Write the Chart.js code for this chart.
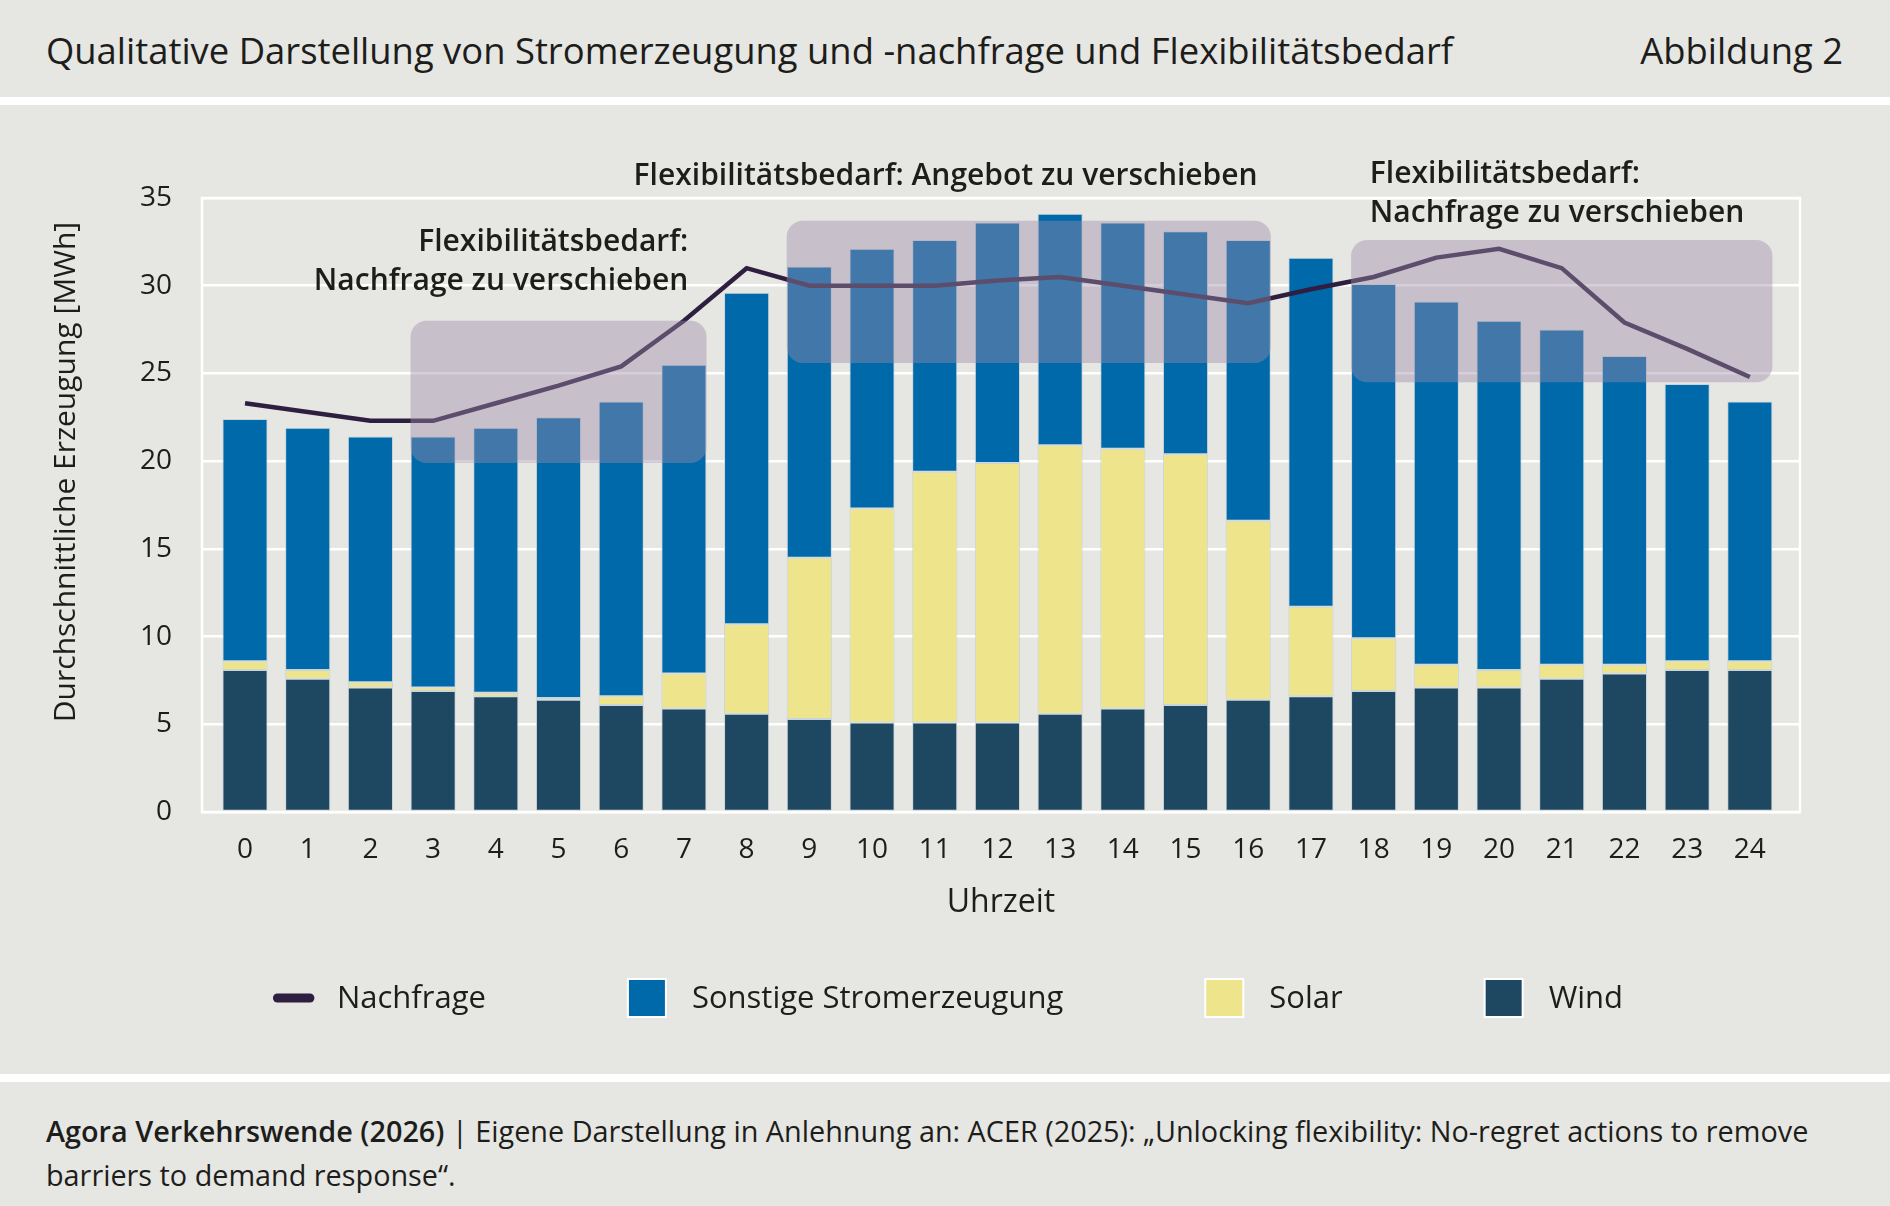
<!DOCTYPE html>
<html lang="de">
<head>
<meta charset="utf-8">
<script src="https://cdn.jsdelivr.net/npm/chart.js@4.4.1/dist/chart.umd.min.js"></script>
<style>
    html, body { margin: 0; padding: 0; }
    body {
        width: 1890px; height: 1206px; position: relative; overflow: hidden;
        background: #e6e6e2; color: #1d1d1b;
        font-family: "Open Sans", Roboto, sans-serif;
    }
    .title { position: absolute; left: 46px; top: 28px; font-size: 36.4px; line-height: 44px; }
    .fig { position: absolute; right: 47px; top: 28px; font-size: 36.4px; line-height: 44px; }
    .rule { position: absolute; left: 0; width: 1890px; height: 8px; background: #fff; }
    #wrap { position: absolute; left: 0; top: 105px; width: 1890px; height: 969px; }
    .footer { position: absolute; left: 46px; top: 1109px; font-size: 28.8px; line-height: 44px; white-space: nowrap; }
    .footer b { font-weight: 600; }
</style>
</head>
<body>
<div class="title">Qualitative Darstellung von Stromerzeugung und -nachfrage und Flexibilitätsbedarf</div>
<div class="fig">Abbildung 2</div>
<div class="rule" style="top:97px"></div>
<div id="wrap"><canvas id="chart" width="1890" height="969"></canvas></div>
<div class="rule" style="top:1074px"></div>
<div class="footer"><b>Agora Verkehrswende (2026)</b> | Eigene Darstellung in Anlehnung an: ACER (2025): „Unlocking flexibility: No-regret actions to remove<br>barriers to demand response“.</div>

<script>
// Stunden und Werte (MWh)
const hours = [0, 1, 2, 3, 4, 5, 6, 7, 8, 9, 10, 11, 12, 13, 14, 15, 16, 17, 18, 19, 20, 21, 22, 23, 24];
const wind = [8.1, 7.6, 7.1, 6.9, 6.6, 6.4, 6.1, 5.9, 5.6, 5.3, 5.1, 5.1, 5.1, 5.6, 5.9, 6.1, 6.4, 6.6, 6.9, 7.1, 7.1, 7.6, 7.9, 8.1, 8.1];
const solar = [0.5, 0.5, 0.3, 0.2, 0.2, 0.1, 0.5, 2.0, 5.1, 9.2, 12.2, 14.3, 14.8, 15.3, 14.8, 14.3, 10.2, 5.1, 3.0, 1.3, 1.0, 0.8, 0.5, 0.5, 0.5];
const sonstige = [13.8, 13.8, 14.0, 14.3, 15.1, 16.0, 16.8, 17.6, 18.9, 16.6, 14.8, 13.2, 13.7, 13.2, 12.9, 12.7, 16.0, 19.9, 20.2, 20.7, 19.9, 19.1, 17.6, 15.8, 14.8];
const nachfrage = [23.3, 22.8, 22.3, 22.3, 23.3, 24.3, 25.4, 28.0, 31.0, 30.0, 30.0, 30.0, 30.3, 30.5, 30.0, 29.5, 29.0, 29.8, 30.5, 31.6, 32.1, 31.0, 27.9, 26.4, 24.8];
const yTicks = [0, 5, 10, 15, 20, 25, 30, 35];

// Flexibilitätsbereiche (von Stunde, bis Stunde, MWh unten, MWh oben)
const flexFrom = [3, 9, 18];
const flexTo = [7, 16, 24];
const flexLow = [19.9, 25.6, 24.5];
const flexHigh = [28.0, 33.7, 32.6];
const flexLabels = [
    ["Flexibilitätsbedarf:", "Nachfrage zu verschieben"],
    ["Flexibilitätsbedarf: Angebot zu verschieben"],
    ["Flexibilitätsbedarf:", "Nachfrage zu verschieben"],
];

const legendOrder = ["Nachfrage", "Sonstige Stromerzeugung", "Solar", "Wind"];
const textColor = "#1d1d1b";
const fontFamily = "'Open Sans', Roboto, sans-serif";
const barHalf = 0.36;

Chart.defaults.font.family = fontFamily;
Chart.defaults.color = textColor;

const xy = (arr) => hours.map((h, i) => ({ x: h, y: arr[i] }));

// weisser Rahmen um die Zeichenfläche und Achsentitel links
const framePlugin = {
    id: "frame",
    beforeDatasetsDraw(chart) {
        const { ctx, chartArea: a } = chart;
        ctx.save();
        ctx.strokeStyle = "#ffffff";
        ctx.lineWidth = 2.5;
        ctx.strokeRect(a.left, a.top, a.right - a.left, a.bottom - a.top);
        ctx.translate(66, 367);
        ctx.rotate(-Math.PI / 2);
        ctx.fillStyle = textColor;
        ctx.font = "30px " + fontFamily;
        ctx.textAlign = "center";
        ctx.textBaseline = "middle";
        ctx.fillText("Durchschnittliche Erzeugung [MWh]", 0, 0);
        ctx.restore();
    },
};

// halbtransparente Bereiche und Beschriftung
const flexPlugin = {
    id: "flex",
    afterDatasetsDraw(chart) {
        const { ctx, scales: { x, y } } = chart;
        ctx.save();
        ctx.fillStyle = "rgba(157, 140, 170, 0.42)";
        flexFrom.forEach((f, i) => {
            const x0 = x.getPixelForValue(f - barHalf);
            const x1 = x.getPixelForValue(flexTo[i] + barHalf);
            const y0 = y.getPixelForValue(flexHigh[i]);
            const y1 = y.getPixelForValue(flexLow[i]);
            ctx.beginPath();
            ctx.roundRect(x0, y0, x1 - x0, y1 - y0, 16);
            ctx.fill();
        });
        ctx.fillStyle = textColor;
        ctx.font = "600 30px " + fontFamily;
        ctx.textBaseline = "middle";
        // links: rechtsbündig
        ctx.textAlign = "right";
        ctx.fillText(flexLabels[0][0], x.getPixelForValue(7.07), y.getPixelForValue(32.45));
        ctx.fillText(flexLabels[0][1], x.getPixelForValue(7.07), y.getPixelForValue(30.25));
        ctx.fillText(flexLabels[1][0], x.getPixelForValue(16.15), y.getPixelForValue(36.2));
        // rechts: linksbündig
        ctx.textAlign = "left";
        ctx.fillText(flexLabels[2][0], x.getPixelForValue(17.94), y.getPixelForValue(36.35));
        ctx.fillText(flexLabels[2][1], x.getPixelForValue(17.94), y.getPixelForValue(34.1));
        ctx.restore();
    },
};

// eigene Legende unten
const legendPlugin = {
    id: "bottomLegend",
    afterDraw(chart) {
        const { ctx } = chart;
        const items = legendOrder.map((name) => chart.data.datasets.find((d) => d.label === name));
        ctx.save();
        ctx.font = "31px " + fontFamily;
        ctx.textBaseline = "middle";
        ctx.textAlign = "left";
        const marker = 38, gapText = 26, gapItem = 142;
        const widths = items.map((d) => marker + gapText + ctx.measureText(d.label).width);
        const total = widths.reduce((s, w) => s + w, 0) + gapItem * (items.length - 1);
        let cx = chart.width / 2 - total / 2 + 3;
        const cy = 893;
        items.forEach((d, i) => {
            if (d.type === "line") {
                ctx.strokeStyle = d.borderColor;
                ctx.lineWidth = 9;
                ctx.lineCap = "round";
                ctx.beginPath();
                ctx.moveTo(cx + 4.5, cy);
                ctx.lineTo(cx + marker - 1, cy);
                ctx.stroke();
            } else {
                ctx.fillStyle = d.backgroundColor;
                ctx.fillRect(cx, cy - marker / 2, marker, marker);
                ctx.strokeStyle = "#ffffff";
                ctx.lineWidth = 2;
                ctx.strokeRect(cx, cy - marker / 2, marker, marker);
            }
            ctx.fillStyle = textColor;
            ctx.fillText(d.label, cx + marker + gapText, cy + 1);
            cx += widths[i] + gapItem;
        });
        ctx.restore();
    },
};

new Chart(document.getElementById("chart"), {
    type: "bar",
    data: {
        datasets: [
            {
                type: "line",
                label: "Nachfrage",
                data: xy(nachfrage),
                borderColor: "#2e1f40",
                borderWidth: 4.5,
                pointRadius: 0,
                tension: 0,
                stack: "demand",
                order: 0,
            },
            {
                label: "Wind",
                data: xy(wind),
                backgroundColor: "#1e4762",
                borderColor: "rgba(190, 205, 215, 0.7)",
                borderWidth: 1,
                borderSkipped: false,
                stack: "supply",
                order: 1,
            },
            {
                label: "Solar",
                data: xy(solar),
                backgroundColor: "#ede48b",
                borderColor: "rgba(190, 205, 215, 0.7)",
                borderWidth: 1,
                borderSkipped: false,
                stack: "supply",
                order: 1,
            },
            {
                label: "Sonstige Stromerzeugung",
                data: xy(sonstige),
                backgroundColor: "#0069aa",
                borderColor: "rgba(190, 205, 215, 0.7)",
                borderWidth: 1,
                borderSkipped: false,
                stack: "supply",
                order: 1,
            },
        ],
    },
    options: {
        responsive: false,
        animation: false,
        devicePixelRatio: 1,
        barPercentage: 0.72,
        categoryPercentage: 1,
        layout: { padding: { top: 93, right: 90, bottom: 142, left: 0 } },
        plugins: {
            legend: { display: false },
            tooltip: { enabled: false },
        },
        scales: {
            x: {
                type: "linear",
                offset: false,
                min: -0.686,
                max: 24.8,
                stacked: true,
                grid: { display: false, offset: false },
                border: { display: false },
                afterBuildTicks: (scale) => { scale.ticks = hours.map((h) => ({ value: h })); },
                afterFit: (scale) => { scale.height = 120; },
                ticks: { autoSkip: false, maxRotation: 0, padding: 13, font: { size: 28 }, color: textColor },
                title: { display: true, text: "Uhrzeit", font: { size: 32 }, color: textColor, padding: { top: 0, bottom: 10 } },
            },
            y: {
                min: 0,
                max: 35,
                stacked: true,
                afterBuildTicks: (scale) => { scale.ticks = yTicks.map((v) => ({ value: v })); },
                afterFit: (scale) => { scale.width = 202; },
                grid: { color: "#ffffff", lineWidth: 2.5, drawTicks: false },
                border: { display: false },
                ticks: { padding: 30, font: { size: 28 }, color: textColor },
            },
        },
    },
    plugins: [framePlugin, flexPlugin, legendPlugin],
});
</script>
</body>
</html>
